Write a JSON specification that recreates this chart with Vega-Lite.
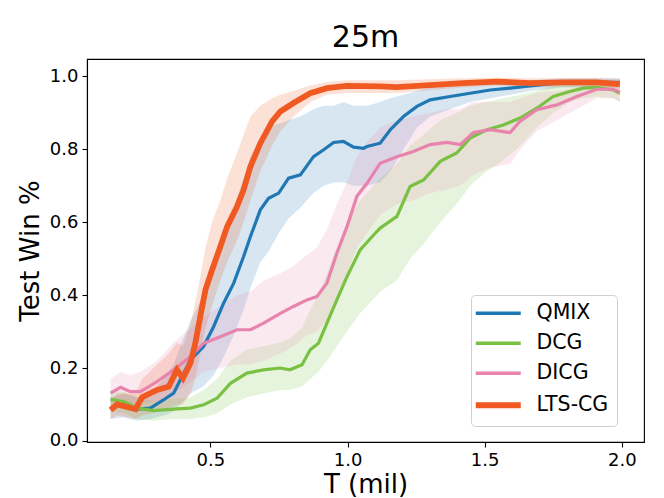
{
  "$schema": "https://vega.github.io/schema/vega-lite/v6.json",
  "width": 557,
  "height": 383,
  "autosize": {"type": "none"},
  "padding": {"left": 87, "top": 59, "right": 20, "bottom": 56},
  "background": "white",
  "config": {
    "font": "DejaVu Sans",
    "view": {"stroke": "black", "strokeWidth": 1.1},
    "axis": {"grid": false, "domainColor": "black", "tickColor": "black", "domainWidth": 1.1, "tickWidth": 1.1, "tickSize": 5, "labelColor": "black", "titleColor": "black", "labelFont": "DejaVu Sans", "titleFont": "DejaVu Sans", "labelFontSize": 18, "titleFontSize": 26, "titleFontWeight": "normal"}
  },
  "title": {"text": "25m", "fontSize": 30, "font": "DejaVu Sans", "fontWeight": "normal", "color": "black", "offset": 6},
  "data": {"values": [
    {"m":"QMIX","t":0.136,"v":0.09,"lo":0.06,"hi":0.12},
    {"m":"QMIX","t":0.184,"v":0.103,"lo":0.065,"hi":0.13},
    {"m":"QMIX","t":0.233,"v":0.087,"lo":0.055,"hi":0.12},
    {"m":"QMIX","t":0.281,"v":0.09,"lo":0.06,"hi":0.13},
    {"m":"QMIX","t":0.33,"v":0.113,"lo":0.07,"hi":0.17},
    {"m":"QMIX","t":0.366,"v":0.131,"lo":0.08,"hi":0.21},
    {"m":"QMIX","t":0.39,"v":0.167,"lo":0.1,"hi":0.26},
    {"m":"QMIX","t":0.427,"v":0.222,"lo":0.13,"hi":0.33},
    {"m":"QMIX","t":0.475,"v":0.259,"lo":0.15,"hi":0.4},
    {"m":"QMIX","t":0.512,"v":0.314,"lo":0.18,"hi":0.48},
    {"m":"QMIX","t":0.548,"v":0.378,"lo":0.23,"hi":0.56},
    {"m":"QMIX","t":0.585,"v":0.433,"lo":0.29,"hi":0.64},
    {"m":"QMIX","t":0.621,"v":0.506,"lo":0.36,"hi":0.72},
    {"m":"QMIX","t":0.646,"v":0.561,"lo":0.42,"hi":0.78},
    {"m":"QMIX","t":0.682,"v":0.634,"lo":0.49,"hi":0.83},
    {"m":"QMIX","t":0.712,"v":0.666,"lo":0.52,"hi":0.86},
    {"m":"QMIX","t":0.749,"v":0.68,"lo":0.57,"hi":0.87},
    {"m":"QMIX","t":0.785,"v":0.721,"lo":0.61,"hi":0.88},
    {"m":"QMIX","t":0.828,"v":0.73,"lo":0.64,"hi":0.89},
    {"m":"QMIX","t":0.876,"v":0.78,"lo":0.68,"hi":0.91},
    {"m":"QMIX","t":0.913,"v":0.799,"lo":0.7,"hi":0.92},
    {"m":"QMIX","t":0.949,"v":0.819,"lo":0.71,"hi":0.92},
    {"m":"QMIX","t":0.985,"v":0.822,"lo":0.71,"hi":0.93},
    {"m":"QMIX","t":1.022,"v":0.806,"lo":0.7,"hi":0.92},
    {"m":"QMIX","t":1.058,"v":0.803,"lo":0.7,"hi":0.92},
    {"m":"QMIX","t":1.071,"v":0.808,"lo":0.7,"hi":0.92},
    {"m":"QMIX","t":1.119,"v":0.817,"lo":0.71,"hi":0.93},
    {"m":"QMIX","t":1.156,"v":0.854,"lo":0.74,"hi":0.94},
    {"m":"QMIX","t":1.204,"v":0.89,"lo":0.8,"hi":0.95},
    {"m":"QMIX","t":1.253,"v":0.918,"lo":0.86,"hi":0.96},
    {"m":"QMIX","t":1.301,"v":0.936,"lo":0.89,"hi":0.97},
    {"m":"QMIX","t":1.374,"v":0.945,"lo":0.91,"hi":0.975},
    {"m":"QMIX","t":1.447,"v":0.954,"lo":0.93,"hi":0.98},
    {"m":"QMIX","t":1.52,"v":0.963,"lo":0.94,"hi":0.985},
    {"m":"QMIX","t":1.593,"v":0.968,"lo":0.95,"hi":0.985},
    {"m":"QMIX","t":1.666,"v":0.974,"lo":0.96,"hi":0.99},
    {"m":"QMIX","t":1.787,"v":0.984,"lo":0.97,"hi":0.995},
    {"m":"QMIX","t":1.993,"v":0.984,"lo":0.97,"hi":0.995},
    {"m":"DCG","t":0.136,"v":0.114,"lo":0.08,"hi":0.14},
    {"m":"DCG","t":0.184,"v":0.108,"lo":0.075,"hi":0.135},
    {"m":"DCG","t":0.233,"v":0.09,"lo":0.06,"hi":0.12},
    {"m":"DCG","t":0.293,"v":0.083,"lo":0.055,"hi":0.11},
    {"m":"DCG","t":0.366,"v":0.087,"lo":0.06,"hi":0.115},
    {"m":"DCG","t":0.427,"v":0.09,"lo":0.06,"hi":0.12},
    {"m":"DCG","t":0.475,"v":0.099,"lo":0.065,"hi":0.14},
    {"m":"DCG","t":0.524,"v":0.117,"lo":0.075,"hi":0.17},
    {"m":"DCG","t":0.573,"v":0.158,"lo":0.1,"hi":0.22},
    {"m":"DCG","t":0.633,"v":0.186,"lo":0.12,"hi":0.25},
    {"m":"DCG","t":0.694,"v":0.195,"lo":0.13,"hi":0.26},
    {"m":"DCG","t":0.755,"v":0.2,"lo":0.14,"hi":0.27},
    {"m":"DCG","t":0.79,"v":0.195,"lo":0.14,"hi":0.28},
    {"m":"DCG","t":0.834,"v":0.209,"lo":0.15,"hi":0.31},
    {"m":"DCG","t":0.864,"v":0.25,"lo":0.17,"hi":0.36},
    {"m":"DCG","t":0.894,"v":0.268,"lo":0.19,"hi":0.4},
    {"m":"DCG","t":0.925,"v":0.323,"lo":0.22,"hi":0.46},
    {"m":"DCG","t":0.961,"v":0.387,"lo":0.26,"hi":0.53},
    {"m":"DCG","t":0.998,"v":0.451,"lo":0.3,"hi":0.6},
    {"m":"DCG","t":1.046,"v":0.524,"lo":0.35,"hi":0.66},
    {"m":"DCG","t":1.095,"v":0.565,"lo":0.39,"hi":0.7},
    {"m":"DCG","t":1.119,"v":0.584,"lo":0.41,"hi":0.72},
    {"m":"DCG","t":1.18,"v":0.616,"lo":0.44,"hi":0.76},
    {"m":"DCG","t":1.228,"v":0.698,"lo":0.5,"hi":0.81},
    {"m":"DCG","t":1.277,"v":0.716,"lo":0.54,"hi":0.84},
    {"m":"DCG","t":1.338,"v":0.767,"lo":0.6,"hi":0.88},
    {"m":"DCG","t":1.398,"v":0.79,"lo":0.65,"hi":0.9},
    {"m":"DCG","t":1.447,"v":0.831,"lo":0.7,"hi":0.92},
    {"m":"DCG","t":1.508,"v":0.854,"lo":0.74,"hi":0.93},
    {"m":"DCG","t":1.568,"v":0.867,"lo":0.77,"hi":0.94},
    {"m":"DCG","t":1.629,"v":0.886,"lo":0.81,"hi":0.95},
    {"m":"DCG","t":1.69,"v":0.913,"lo":0.86,"hi":0.96},
    {"m":"DCG","t":1.75,"v":0.945,"lo":0.9,"hi":0.975},
    {"m":"DCG","t":1.811,"v":0.959,"lo":0.93,"hi":0.98},
    {"m":"DCG","t":1.86,"v":0.968,"lo":0.94,"hi":0.985},
    {"m":"DCG","t":1.909,"v":0.97,"lo":0.945,"hi":0.985},
    {"m":"DCG","t":1.969,"v":0.963,"lo":0.94,"hi":0.98},
    {"m":"DCG","t":1.993,"v":0.954,"lo":0.93,"hi":0.975},
    {"m":"DICG","t":0.136,"v":0.131,"lo":0.1,"hi":0.17},
    {"m":"DICG","t":0.172,"v":0.147,"lo":0.11,"hi":0.19},
    {"m":"DICG","t":0.208,"v":0.135,"lo":0.1,"hi":0.18},
    {"m":"DICG","t":0.245,"v":0.135,"lo":0.1,"hi":0.19},
    {"m":"DICG","t":0.306,"v":0.163,"lo":0.11,"hi":0.22},
    {"m":"DICG","t":0.366,"v":0.195,"lo":0.13,"hi":0.27},
    {"m":"DICG","t":0.427,"v":0.231,"lo":0.16,"hi":0.31},
    {"m":"DICG","t":0.475,"v":0.268,"lo":0.19,"hi":0.34},
    {"m":"DICG","t":0.536,"v":0.286,"lo":0.2,"hi":0.37},
    {"m":"DICG","t":0.597,"v":0.305,"lo":0.21,"hi":0.4},
    {"m":"DICG","t":0.646,"v":0.305,"lo":0.21,"hi":0.41},
    {"m":"DICG","t":0.694,"v":0.323,"lo":0.22,"hi":0.44},
    {"m":"DICG","t":0.755,"v":0.35,"lo":0.24,"hi":0.46},
    {"m":"DICG","t":0.803,"v":0.369,"lo":0.26,"hi":0.48},
    {"m":"DICG","t":0.852,"v":0.387,"lo":0.29,"hi":0.51},
    {"m":"DICG","t":0.888,"v":0.396,"lo":0.3,"hi":0.53},
    {"m":"DICG","t":0.925,"v":0.433,"lo":0.33,"hi":0.58},
    {"m":"DICG","t":0.961,"v":0.515,"lo":0.4,"hi":0.65},
    {"m":"DICG","t":0.998,"v":0.588,"lo":0.46,"hi":0.71},
    {"m":"DICG","t":1.034,"v":0.671,"lo":0.53,"hi":0.78},
    {"m":"DICG","t":1.071,"v":0.707,"lo":0.57,"hi":0.82},
    {"m":"DICG","t":1.119,"v":0.762,"lo":0.62,"hi":0.86},
    {"m":"DICG","t":1.18,"v":0.78,"lo":0.65,"hi":0.88},
    {"m":"DICG","t":1.24,"v":0.794,"lo":0.66,"hi":0.89},
    {"m":"DICG","t":1.301,"v":0.813,"lo":0.68,"hi":0.9},
    {"m":"DICG","t":1.362,"v":0.819,"lo":0.69,"hi":0.91},
    {"m":"DICG","t":1.411,"v":0.813,"lo":0.7,"hi":0.91},
    {"m":"DICG","t":1.459,"v":0.846,"lo":0.73,"hi":0.93},
    {"m":"DICG","t":1.52,"v":0.854,"lo":0.75,"hi":0.93},
    {"m":"DICG","t":1.593,"v":0.846,"lo":0.76,"hi":0.93},
    {"m":"DICG","t":1.629,"v":0.877,"lo":0.8,"hi":0.94},
    {"m":"DICG","t":1.69,"v":0.909,"lo":0.85,"hi":0.955},
    {"m":"DICG","t":1.763,"v":0.922,"lo":0.88,"hi":0.96},
    {"m":"DICG","t":1.836,"v":0.945,"lo":0.91,"hi":0.97},
    {"m":"DICG","t":1.909,"v":0.965,"lo":0.94,"hi":0.985},
    {"m":"DICG","t":1.969,"v":0.965,"lo":0.94,"hi":0.985},
    {"m":"DICG","t":1.993,"v":0.957,"lo":0.93,"hi":0.98},
    {"m":"LTS-CG","t":0.136,"v":0.085,"lo":0.06,"hi":0.11},
    {"m":"LTS-CG","t":0.16,"v":0.1,"lo":0.07,"hi":0.13},
    {"m":"LTS-CG","t":0.227,"v":0.087,"lo":0.06,"hi":0.13},
    {"m":"LTS-CG","t":0.251,"v":0.12,"lo":0.07,"hi":0.17},
    {"m":"LTS-CG","t":0.306,"v":0.14,"lo":0.08,"hi":0.21},
    {"m":"LTS-CG","t":0.348,"v":0.149,"lo":0.09,"hi":0.24},
    {"m":"LTS-CG","t":0.378,"v":0.195,"lo":0.1,"hi":0.27},
    {"m":"LTS-CG","t":0.4,"v":0.172,"lo":0.1,"hi":0.26},
    {"m":"LTS-CG","t":0.427,"v":0.213,"lo":0.13,"hi":0.32},
    {"m":"LTS-CG","t":0.445,"v":0.268,"lo":0.17,"hi":0.38},
    {"m":"LTS-CG","t":0.463,"v":0.341,"lo":0.24,"hi":0.45},
    {"m":"LTS-CG","t":0.482,"v":0.415,"lo":0.31,"hi":0.53},
    {"m":"LTS-CG","t":0.506,"v":0.469,"lo":0.37,"hi":0.6},
    {"m":"LTS-CG","t":0.536,"v":0.533,"lo":0.44,"hi":0.66},
    {"m":"LTS-CG","t":0.561,"v":0.588,"lo":0.49,"hi":0.72},
    {"m":"LTS-CG","t":0.597,"v":0.643,"lo":0.55,"hi":0.79},
    {"m":"LTS-CG","t":0.621,"v":0.689,"lo":0.6,"hi":0.84},
    {"m":"LTS-CG","t":0.646,"v":0.753,"lo":0.66,"hi":0.89},
    {"m":"LTS-CG","t":0.682,"v":0.817,"lo":0.74,"hi":0.92},
    {"m":"LTS-CG","t":0.725,"v":0.877,"lo":0.81,"hi":0.94},
    {"m":"LTS-CG","t":0.755,"v":0.904,"lo":0.85,"hi":0.95},
    {"m":"LTS-CG","t":0.803,"v":0.927,"lo":0.89,"hi":0.96},
    {"m":"LTS-CG","t":0.864,"v":0.954,"lo":0.93,"hi":0.975},
    {"m":"LTS-CG","t":0.925,"v":0.968,"lo":0.95,"hi":0.985},
    {"m":"LTS-CG","t":0.998,"v":0.974,"lo":0.955,"hi":0.99},
    {"m":"LTS-CG","t":1.119,"v":0.973,"lo":0.955,"hi":0.99},
    {"m":"LTS-CG","t":1.18,"v":0.971,"lo":0.955,"hi":0.99},
    {"m":"LTS-CG","t":1.42,"v":0.982,"lo":0.97,"hi":0.995},
    {"m":"LTS-CG","t":1.544,"v":0.986,"lo":0.975,"hi":0.997},
    {"m":"LTS-CG","t":1.666,"v":0.982,"lo":0.97,"hi":0.995},
    {"m":"LTS-CG","t":1.787,"v":0.984,"lo":0.972,"hi":0.996},
    {"m":"LTS-CG","t":1.909,"v":0.984,"lo":0.972,"hi":0.996},
    {"m":"LTS-CG","t":1.993,"v":0.979,"lo":0.965,"hi":0.993}
  ]},
  "encoding": {
    "x": {"field": "t", "type": "quantitative", "scale": {"domain": [0.05, 2.081], "nice": false, "zero": false},
      "axis": {"values": [0.5, 1.0, 1.5, 2.0], "format": ".1f", "title": "T (mil)", "titlePadding": 2, "labelPadding": 4}},
    "color": {"field": "m", "type": "nominal", "scale": {"domain": ["QMIX", "DCG", "DICG", "LTS-CG"], "range": ["#1f77b4", "#7ac143", "#e883ad", "#f05a22"]},
      "legend": {"title": null, "orient": "none", "legendX": 384, "legendY": 236, "symbolType": "stroke", "symbolSize": 2025, "symbolOffset": 9, "symbolStrokeWidth": 3.5, "labelFontSize": 20.5, "labelFont": "DejaVu Sans", "labelColor": "black", "labelOffset": 28, "rowPadding": 9, "padding": 8, "fillColor": "white", "strokeColor": "#d0d0d0", "cornerRadius": 4,
        "encode": {"symbols": {"update": {"strokeWidth": {"signal": "datum.value === 'LTS-CG' ? 6 : 3.5"}, "opacity": {"value": 1}, "strokeOpacity": {"value": 1}}}}}}
  },
  "layer": [
    {"mark": {"type": "area", "fillOpacity": 0.18, "strokeOpacity": 0, "interpolate": "linear"},
     "encoding": {"y": {"field": "lo", "type": "quantitative", "scale": {"domain": [-0.003, 1.048], "nice": false, "zero": false},
        "axis": {"values": [0, 0.2, 0.4, 0.6, 0.8, 1.0], "format": ".1f", "title": "Test Win %", "titlePadding": 6, "labelPadding": 4}},
       "y2": {"field": "hi"}}},
    {"transform": [{"filter": "datum.m === 'QMIX'"}], "mark": {"type": "line", "strokeWidth": 3.2}, "encoding": {"y": {"field": "v", "type": "quantitative"}}},
    {"transform": [{"filter": "datum.m === 'DCG'"}], "mark": {"type": "line", "strokeWidth": 3.2}, "encoding": {"y": {"field": "v", "type": "quantitative"}}},
    {"transform": [{"filter": "datum.m === 'DICG'"}], "mark": {"type": "line", "strokeWidth": 3.2}, "encoding": {"y": {"field": "v", "type": "quantitative"}}},
    {"transform": [{"filter": "datum.m === 'LTS-CG'"}], "mark": {"type": "line", "strokeWidth": 5.8}, "encoding": {"y": {"field": "v", "type": "quantitative"}}}
  ]
}
